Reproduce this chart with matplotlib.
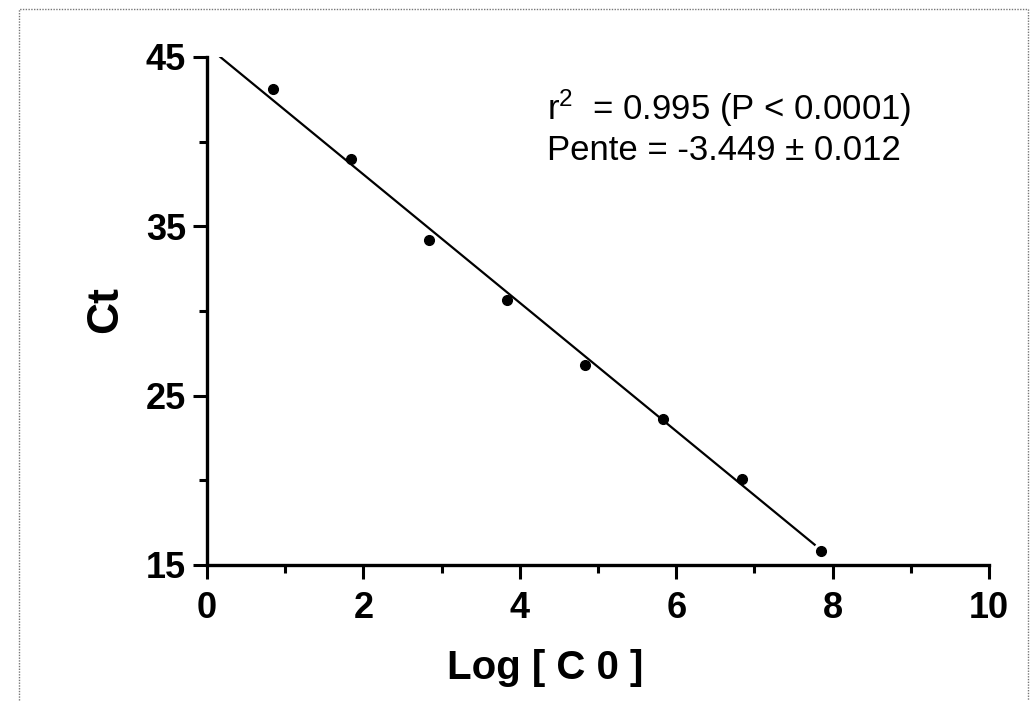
#!/usr/bin/env python3
"""standard curve: Ct vs log of initial concentration"""
import matplotlib
matplotlib.use('Agg')
import matplotlib.pyplot as plt
from matplotlib.patches import Rectangle
from matplotlib.ticker import MultipleLocator

# data
log_c0 = [0.84, 1.84, 2.84, 3.83, 4.83, 5.83, 6.84, 7.85]
ct = [43.1, 39.0, 34.2, 30.65, 26.8, 23.6, 20.1, 15.8]

# regression line as drawn
fit_x = [0.17, 7.77]
fit_y = [45.0, 16.2]

r2_text = 'r$^2$  = 0.995 (P < 0.0001)'
slope_text = 'Pente = -3.449 \u00b1 0.012'

plt.rcParams['font.family'] = ['Liberation Sans', 'DejaVu Sans']
plt.rcParams['mathtext.fontset'] = 'custom'
plt.rcParams['mathtext.rm'] = 'Liberation Sans'
plt.rcParams['mathtext.it'] = 'Liberation Sans'

W, H = 1036, 701
fig = plt.figure(figsize=(W / 100, H / 100), dpi=100)

# dotted frame around the figure
fig.patches.append(Rectangle((19 / W, -0.05), (1028 - 19) / W, 1.05 - 9 / H,
                             transform=fig.transFigure, fill=False,
                             linestyle=(0, (1, 1)), linewidth=1.0, edgecolor='#777777'))

ax = fig.add_axes([207 / W, 1 - 565 / H, (989 - 207) / W, (565 - 57) / H])

ax.plot(fit_x, fit_y, '-', color='black', linewidth=1.6)
ax.plot(log_c0, ct, 'o', color='black', markersize=7, clip_on=False)

ax.set_xlim(0, 10)
ax.set_ylim(15, 45)
ax.xaxis.set_major_locator(MultipleLocator(2))
ax.xaxis.set_minor_locator(MultipleLocator(1))
ax.set_yticks([15, 25, 35, 45])
ax.set_yticks([20, 30, 40], minor=True)

for side in ('top', 'right'):
	ax.spines[side].set_visible(False)
for side in ('left', 'bottom'):
	ax.spines[side].set_linewidth(2.4)

ax.tick_params(which='major', direction='out', length=10, width=2.2, labelsize=26)
ax.tick_params(which='minor', direction='out', length=6, width=2.2)
ax.tick_params(axis='x', which='major', pad=9)
ax.tick_params(axis='y', which='major', pad=5)
for lab in ax.get_xticklabels() + ax.get_yticklabels():
	lab.set_fontweight('bold')

ax.set_ylabel('Ct', fontsize=32, fontweight='bold', va='center')
ax.yaxis.set_label_coords(-0.130, 0.502)
ax.set_xlabel('Log [ C 0 ]', fontsize=29, fontweight='bold', va='center')
ax.xaxis.set_label_coords(0.432, -0.203)

ax.text(4.35, 41.3, r2_text, fontsize=25, va='baseline', ha='left')
ax.text(4.35, 38.9, slope_text, fontsize=25, va='baseline', ha='left')

fig.savefig('out.png', dpi=100)
